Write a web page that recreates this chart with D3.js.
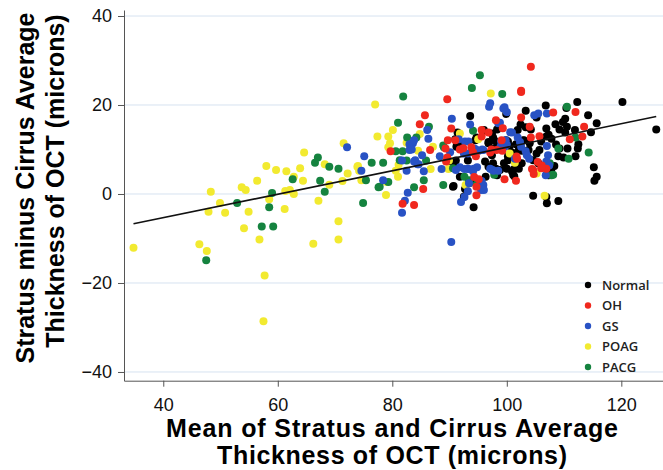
<!DOCTYPE html>
<html lang="en">
<head>
    <meta charset="UTF-8">
    <title>Stratus minus Cirrus vs Mean (Bland-Altman)</title>
    <script src="https://d3js.org/d3.v7.min.js"></script>
    <style>
        body { margin: 0; background: #fff; }
        .grid line { stroke: #d6e2f0; stroke-width: 1; }
        .axis path, .axis line { stroke: #555; }
        .axis text { font-family: "Liberation Sans", Arial, sans-serif; font-size: 18px; fill: #111; }
        .axis-title { font-family: "Liberation Sans", Arial, sans-serif; font-weight: bold; font-size: 25px; fill: #000; }
        .legend text { font-family: "Open Sans", sans-serif; font-size: 13px; font-weight: 600; fill: #222; }
    </style>
</head>
<body>
    <div id="chart"></div>

    <script>
        // group names (legend order)
        const groups = ["Normal", "OH", "GS", "POAG", "PACG"];

        // [mean thickness, stratus - cirrus]
        const normalPts = [
            [93.6,17.5],[96.0,14.4],[94.7,12.7],[91.2,10.6],[96.8,11.7],[97.6,12.7],[98.3,14.5],[91.8,3.9],[90.7,1.8],[92.5,-0.6],
            [92.7,1.1],[94.2,-3.0],[106.8,19.9],[99.9,18.0],[103.3,18.7],[110.4,19.3],[102.4,15.6],[103.3,15.0],[101.9,14.4],[105.2,17.2],
            [104.2,14.5],[106.9,14.7],[108.5,15.7],[109.8,16.2],[110.2,16.9],[109.2,14.5],[110.2,13.8],[103.0,12.1],[104.0,11.4],[107.3,13.3],
            [107.8,12.4],[108.6,11.1],[109.2,10.2],[110.6,10.2],[109.9,8.2],[102.6,9.7],[103.8,9.9],[105.2,9.1],[104.6,7.6],[105.5,6.9],
            [108.3,6.3],[104.6,-0.4],[106.9,-0.7],[93.4,2.4],[94.1,3.1],[98.1,5.7],[98.3,4.2],[97.6,6.9],[100.0,5.7],[100.9,5.1],
            [101.3,4.0],[102.1,5.7],[102.6,6.9],[100.2,8.5],[100.9,9.3],[96.8,11.4],[97.5,10.2],[96.2,7.3],[96.8,6.1],[94.5,12.1],
            [92.2,11.4],[91.8,10.2],[97.4,13.6],[97.8,12.1],[100.2,11.8],[93.2,7.5],[91.2,6.0],[90.3,7.3],[91.1,7.5],[96.3,3.9],
            [90.6,1.6],[91.0,12.3],[91.3,11.2],[91.4,13.8],[112.3,20.7],[120.2,20.7],[114.2,17.7],[115.7,15.9],[126.1,14.5],[111.9,14.4],
            [114.7,13.9],[112.5,11.2],[109.0,8.5],[112.0,8.5],[112.4,10.2],[115.2,6.0],[115.7,3.9],[115.3,3.0],[107.0,-2.1],[109.0,-1.6],
            [107.3,4.2],[107.8,5.7],[106.9,12.9],[106.0,11.8],[105.7,9.9],[98.8,5.4],[99.5,6.9],[100.2,7.6],[97.4,8.7],[98.8,10.2],
            [98.3,11.4],[99.9,12.1],[100.5,10.8],[101.6,11.2],[102.8,12.0],[102.1,9.9],[101.3,5.6],[101.1,4.3],[110.5,15.1]
        ];
        const ohPts = [
            [89.6,21.3],[85.7,17.7],[84.8,15.7],[79.7,9.6],[90.3,14.7],[91.0,12.1],[92.4,10.3],[93.8,10.5],[97.3,10.0],[98.1,16.6],
            [86.6,9.9],[89.3,10.2],[89.6,8.2],[94.7,-0.3],[81.8,-2.2],[83.8,-2.5],[85.4,1.1],[102.5,22.9],[102.5,17.2],[108.1,18.3],
            [96.8,13.8],[104.0,15.1],[104.2,12.7],[105.7,13.0],[106.9,5.7],[106.0,5.8],[104.6,5.4],[99.6,3.3],[101.6,3.0],[101.8,7.9],
            [99.2,9.7],[97.1,9.3],[94.1,9.4],[94.6,8.5],[95.6,14.4],[95.6,12.9],[94.3,3.8],[95.1,3.3],[94.7,1.6],[89.4,7.3],
            [91.8,10.0],[104.2,28.6],[102.5,23.2],[112.0,18.4],[113.5,15.1],[111.0,12.3],[113.2,12.9],[104.4,5.6],[104.7,4.5],[106.1,6.4],
            [101.7,8.4],[105.4,7.2],[99.1,12.1],[98.2,9.9],[99.3,14.8],[89.7,12.1]
        ];
        const gsPts = [
            [83.6,11.4],[83.0,9.9],[86.1,14.4],[86.3,12.4],[72.1,10.5],[75.1,8.5],[74.6,5.2],[78.4,3.1],[82.5,5.2],[81.7,7.5],
            [84.0,7.6],[84.4,6.7],[85.5,5.1],[82.7,0.3],[97.1,20.4],[96.9,19.6],[90.4,16.9],[93.6,15.6],[92.7,11.8],[94.6,10.0],
            [95.7,10.0],[83.0,11.2],[83.8,12.1],[83.4,10.0],[85.2,8.7],[83.8,7.3],[84.6,6.7],[88.3,8.5],[88.6,5.6],[91.8,6.0],
            [93.2,5.7],[94.2,5.7],[94.8,6.0],[93.4,2.4],[93.2,0.6],[92.0,-1.8],[95.9,2.0],[82.2,-1.5],[81.7,-4.2],[90.3,-10.8],
            [99.6,19.5],[104.8,17.7],[105.5,18.1],[107.0,18.1],[98.5,15.9],[100.6,13.9],[107.0,10.8],[107.2,8.7],[106.9,7.3],[95.6,2.9],
            [95.7,1.1],[98.5,5.2],[97.7,5.2],[101.4,7.9],[102.5,10.6],[103.3,9.6],[102.3,11.7],[103.5,8.7],[103.9,7.9],[99.6,10.6],
            [100.0,11.1],[98.9,10.6],[97.1,5.7],[95.1,9.7],[95.9,9.9],[94.3,10.2],[92.5,9.1],[93.2,9.1],[93.3,11.8],[99.0,11.8],
            [99.8,12.1],[100.9,13.8],[93.3,5.6],[92.6,5.6],[94.1,5.1],[91.1,5.4],[97.5,5.4],[95.5,0.9],[96.0,0.9],[92.6,-0.7],
            [90.1,9.4],[91.6,12.3],[106.8,4.2],[99.4,19.2],[100.0,18.4],[98.8,16.0],[101.9,12.7],[107.4,6.4]
        ];
        const poagPts = [
            [34.8,-12.1],[46.3,-11.3],[47.6,-12.8],[48.3,0.5],[49.9,-2.0],[47.9,-4.0],[50.8,-4.2],[53.7,1.5],[54.4,0.9],[54.9,-4.0],
            [54.1,-7.7],[56.4,3.0],[56.8,-10.2],[58.0,6.3],[58.5,-1.2],[57.7,-18.3],[57.5,-28.6],[59.7,5.4],[61.5,5.1],[61.3,0.7],
            [62.1,0.9],[62.8,0.0],[61.2,-3.4],[63.9,5.8],[64.4,3.0],[64.6,9.3],[66.2,-11.2],[67.1,-1.5],[68.2,6.7],[69.0,2.1],
            [70.6,-6.1],[70.6,-10.2],[62.8,3.9],[77.0,20.1],[80.1,14.4],[77.4,12.9],[79.3,12.9],[79.6,11.4],[79.3,10.5],[82.5,11.5],
            [71.5,11.4],[71.3,2.9],[72.2,4.6],[74.0,6.3],[74.6,3.1],[79.0,2.7],[80.6,5.2],[81.0,3.9],[78.9,-0.2],[97.2,22.6],
            [91.8,13.6],[84.5,9.7],[89.9,7.5],[73.9,6.1],[74.2,5.2],[84.8,13.5],[105.2,4.6],[106.6,-0.4],[100.5,9.1],[95.0,12.3],
            [92.8,2.0],[86.7,5.6],[89.8,5.6],[87.1,10.6],[101.4,7.0],[81.1,6.6]
        ];
        const pacgPts = [
            [47.5,-14.9],[52.9,-2.0],[57.2,-7.3],[59.2,-7.3],[58.5,-3.0],[59.0,0.2],[62.6,3.3],[66.5,7.0],[67.0,8.2],[69.0,6.1],
            [67.4,3.0],[68.2,0.5],[70.6,5.7],[81.9,21.9],[81.0,16.0],[80.6,9.6],[81.8,9.6],[82.6,12.7],[76.4,7.0],[78.4,7.0],
            [75.4,3.1],[77.6,1.5],[82.5,7.5],[81.3,7.6],[85.5,3.1],[83.8,1.5],[85.9,7.5],[95.3,26.7],[93.9,23.8],[94.1,14.2],
            [89.0,10.5],[88.9,2.0],[94.9,2.5],[92.6,3.9],[74.9,-2.0],[77.8,1.6],[79.3,2.7],[84.2,12.7],[99.2,22.5],[110.5,19.6],
            [109.0,10.2],[108.1,4.3],[97.8,4.3],[93.4,3.1],[94.7,2.1],[90.6,5.8],[86.4,15.1],[88.9,10.9],[112.0,12.7],[110.8,7.9],
            [114.3,9.3],[107.8,4.2],[107.5,6.9]
        ];

        // regression line end points
        const fitLine = [[34.8, -6.7], [126.1, 17.4]];

        // tick labels
        const xTicks = [40, 60, 80, 100, 120];
        const yTicks = [-40, -20, 0, 20, 40];

        const colors = {
            Normal: "#000000",
            OH: "#f0281e",
            GS: "#2852c4",
            POAG: "#f2ea30",
            PACG: "#15833f"
        };
        const seriesData = {
            Normal: normalPts, OH: ohPts, GS: gsPts, POAG: poagPts, PACG: pacgPts
        };

        const width = 663, height = 470;
        const svg = d3.select("#chart")
            .append("svg")
            .attr("width", width)
            .attr("height", height);

        const xScale = d3.scaleLinear().domain([33.14, 127.28]).range([124, 663]);
        const yScale = d3.scaleLinear().domain([-41.96, 41.35]).range([380.7, 10]);

        // horizontal gridlines
        svg.append("g")
            .attr("class", "grid")
            .selectAll("line")
            .data(yTicks)
            .enter()
            .append("line")
            .attr("x1", 124)
            .attr("x2", width)
            .attr("y1", d => yScale(d))
            .attr("y2", d => yScale(d));

        // x axis
        svg.append("g")
            .attr("class", "axis")
            .attr("transform", "translate(0, 380.7)")
            .call(d3.axisBottom(xScale).tickValues(xTicks).tickSize(6).tickSizeOuter(0).tickPadding(12));

        // y axis
        svg.append("g")
            .attr("class", "axis")
            .attr("transform", "translate(124, 0)")
            .call(d3.axisLeft(yScale).tickValues(yTicks).tickSize(6).tickSizeOuter(0).tickPadding(6));

        // points - normals at the bottom so the coloured groups show through
        const dots = svg.append("g");
        ["Normal", "POAG", "PACG", "GS", "OH"].forEach(g => {
            dots.selectAll(null)
                .data(seriesData[g])
                .enter()
                .append("circle")
                .attr("cx", d => xScale(d[0]))
                .attr("cy", d => yScale(d[1]))
                .attr("r", 4)
                .attr("fill", colors[g]);
        });

        // regression line
        svg.append("path")
            .datum(fitLine)
            .attr("fill", "none")
            .attr("stroke", "#111")
            .attr("stroke-width", 1.6)
            .attr("d", d3.line().x(d => xScale(d[0])).y(d => yScale(d[1])));

        // legend
        const legend = svg.append("g")
            .attr("class", "legend")
            .attr("transform", "translate(588, 285)");

        const item = legend.selectAll("g")
            .data(groups)
            .enter()
            .append("g")
            .attr("transform", (d, i) => `translate(0, ${i * 20.5})`);

        item.append("circle")
            .attr("r", 3.2)
            .attr("fill", d => colors[d]);

        item.append("text")
            .attr("x", 14)
            .attr("dy", "0.35em")
            .text(d => d);

        // axis titles
        svg.append("text")
            .attr("class", "axis-title")
            .attr("x", 392)
            .attr("y", 437)
            .attr("text-anchor", "middle")
            .attr("textLength", 452)
            .text("Mean of Stratus and Cirrus Average");
        svg.append("text")
            .attr("class", "axis-title")
            .attr("x", 392)
            .attr("y", 464)
            .attr("text-anchor", "middle")
            .attr("textLength", 350)
            .text("Thickness of OCT (microns)");

        svg.append("text")
            .attr("class", "axis-title")
            .attr("transform", "translate(34, 188) rotate(-90)")
            .attr("text-anchor", "middle")
            .text("Stratus minus Cirrus Average");
        svg.append("text")
            .attr("class", "axis-title")
            .attr("transform", "translate(64, 181) rotate(-90)")
            .attr("text-anchor", "middle")
            .text("Thickness of OCT (microns)");
    </script>
</body>
</html>
